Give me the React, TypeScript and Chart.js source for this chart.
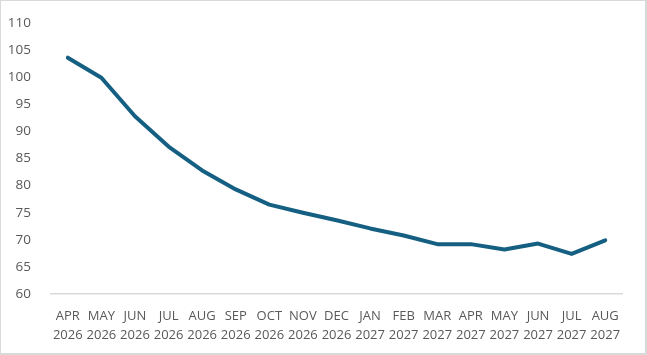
import React, { useEffect, useRef } from "react";
import { Chart, registerables } from "chart.js";

Chart.register(...registerables);

const months = ["APR", "MAY", "JUN", "JUL", "AUG", "SEP", "OCT", "NOV", "DEC", "JAN", "FEB", "MAR", "APR", "MAY", "JUN", "JUL", "AUG"];
const years = ["2026", "2026", "2026", "2026", "2026", "2026", "2026", "2026", "2026", "2027", "2027", "2027", "2027", "2027", "2027", "2027", "2027"];
const values = [103.6, 99.9, 92.8, 87.2, 82.8, 79.3, 76.5, 75.0, 73.6, 72.1, 70.8, 69.2, 69.2, 68.2, 69.3, 67.4, 69.9];
const yMin = 60;
const yMax = 110;
const yStep = 5;

export default function App() {
  const ref = useRef<HTMLCanvasElement | null>(null);
  useEffect(() => {
    if (!ref.current) return;
    const labels = months.map((m, i) => [m, years[i]]);
    const chart = new Chart(ref.current, {
      type: "line",
      data: {
        labels,
        datasets: [
          {
            data: values,
            borderColor: "#156082",
            backgroundColor: "#156082",
            borderWidth: 4,
            pointRadius: 0,
            tension: 0,
            borderCapStyle: "round",
            borderJoinStyle: "round",
          },
        ],
      },
      options: {
        responsive: false,
        animation: false,
        devicePixelRatio: 1,
        layout: { padding: { left: 0, right: 23, top: 22, bottom: 0 } },
        plugins: { legend: { display: false }, tooltip: { enabled: false } },
        scales: {
          x: {
            offset: true,
            grid: { display: false },
            border: { display: true, color: "#d9d9d9", width: 1.5 },
            ticks: {
              color: "#595959",
              font: { family: "Open Sans", size: 13, lineHeight: 1.45 },
              maxRotation: 0,
              autoSkip: false,
              padding: 5,
            },
            afterFit: (s: any) => {
              s.height = 59;
            },
          },
          y: {
            min: yMin,
            max: yMax,
            grid: { display: false },
            border: { display: false },
            ticks: {
              stepSize: yStep,
              color: "#595959",
              font: { family: "Open Sans", size: 13.5 },
              padding: 12,
            },
            afterFit: (s: any) => {
              s.width = 50;
            },
          },
        },
      },
    });
    return () => chart.destroy();
  }, []);
  return (
    <div
      style={{
        position: "fixed",
        left: 0,
        top: 0,
        width: 647,
        height: 355,
        boxSizing: "border-box",
        borderStyle: "solid",
        borderColor: "#d9d9d9",
        borderWidth: "1px 2px 2px 1px",
        background: "#fff",
      }}
    >
      <canvas ref={ref} width={644} height={352} style={{ display: "block" }} />
    </div>
  );
}
